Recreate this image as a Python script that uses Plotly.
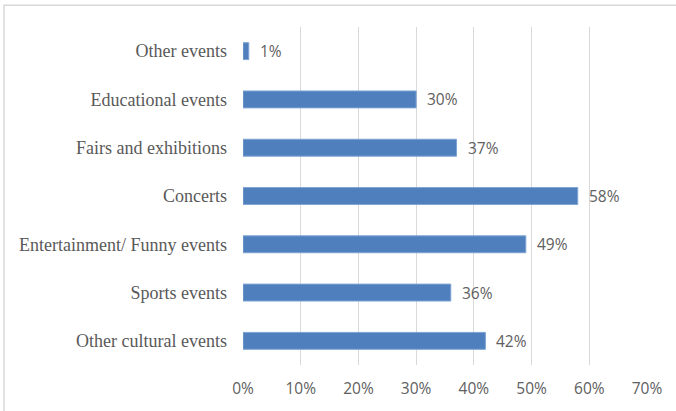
import plotly.graph_objects as go

# Event types (bottom to top) and share of respondents
categories = [
    "Other cultural events",
    "Sports events",
    "Entertainment/ Funny events",
    "Concerts",
    "Fairs and exhibitions",
    "Educational events",
    "Other events",
]
shares = [42, 36, 49, 58, 37, 30, 1]
tick_values = [0, 10, 20, 30, 40, 50, 60, 70]
tick_labels = [f"{v}%" for v in tick_values]

W, H = 676, 411
L, R, T, B = 243, 29, 27, 44
plot_w = W - L - R
plot_h = H - T - B

fig = go.Figure()
fig.add_trace(go.Bar(
    x=shares,
    y=categories,
    orientation="h",
    marker=dict(color="#4f80bd", line=dict(color="#7ea3d4", width=1)),
    width=0.35,
    hoverinfo="skip",
))

# value labels to the right of each bar
for cat, val in zip(categories, shares):
    fig.add_annotation(
        x=val, y=cat, text=f"{val}%", showarrow=False,
        xanchor="left", yanchor="middle", xshift=9,
        font=dict(family="Open Sans, sans-serif", size=15.5, color="#606060"),
    )

# chart frame (top and left edges)
fig.add_shape(
    type="rect", xref="paper", yref="paper",
    x0=(4 - L) / plot_w, x1=(W + 20 - L) / plot_w,
    y0=-0.5, y1=(H - B - 5) / plot_h,
    line=dict(color="#d9d9d9", width=1.5), fillcolor="rgba(0,0,0,0)",
    layer="below",
)

fig.update_layout(
    width=W, height=H,
    margin=dict(l=L, r=R, t=T, b=B),
    paper_bgcolor="white", plot_bgcolor="white",
    showlegend=False,
    xaxis=dict(
        range=[0, 70], tickvals=tick_values, ticktext=tick_labels,
        showgrid=True, gridcolor="#d9d9d9", gridwidth=1,
        zeroline=False, showline=False, ticks="",
        tickfont=dict(family="Open Sans, sans-serif", size=15.5, color="#606060"),
        ticklabelstandoff=12,
        fixedrange=True,
    ),
    yaxis=dict(
        categoryorder="array", categoryarray=categories,
        showgrid=False, zeroline=False, showline=False, ticks="",
        tickfont=dict(family="Liberation Serif, serif", size=18, color="#595959"),
        ticklabelstandoff=15,
        fixedrange=True,
    ),
)

fig.write_html("out.html")
